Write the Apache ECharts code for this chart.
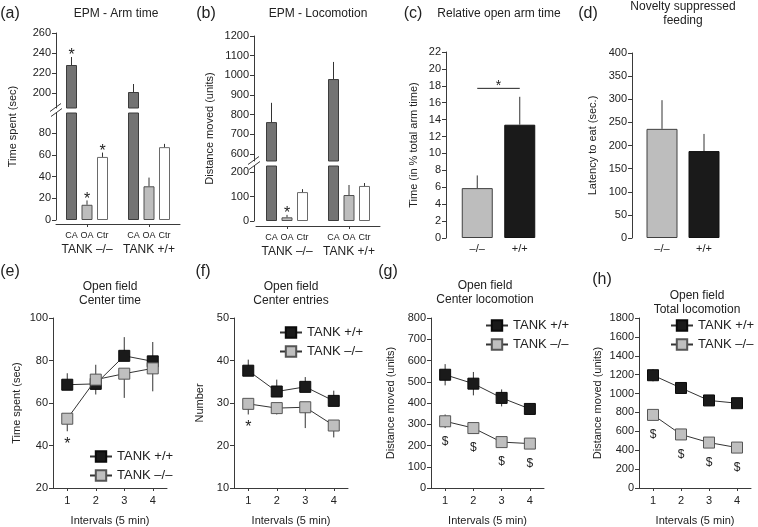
<!DOCTYPE html>
<html><head><meta charset="utf-8">
<script src="https://cdn.jsdelivr.net/npm/echarts@6/dist/echarts.min.js"></script>
<style>html,body{margin:0;padding:0;background:#fff}#c{width:758px;height:527px}</style>
</head><body><div id="c"></div>
<script>
// ---------------- DATA ----------------
const armCats = ['CA', 'OA', 'Ctr'];
const groupLabels = ['TANK \u2013/\u2013', 'TANK +/+'];
// (a) EPM arm time (sec)
const armTimeKO = [228, 14, 58];
const armTimeKOErr = [8, 4, 4];
const armTimeWT = [201, 31, 67];
const armTimeWTErr = [8, 8, 3];
const armTimeKOSig = [1, 1, 1];
const armTimeWTSig = [0, 0, 0];
const armTimeUpperTicks = [200, 220, 240, 260];
const armTimeLowerTicks = [0, 20, 40, 60, 80];
// (b) EPM locomotion (units)
const locoKO = [762, 15, 118];
const locoKOErr = [98, 10, 12];
const locoWT = [981, 106, 143];
const locoWTErr = [87, 41, 12];
const locoKOSig = [0, 1, 0];
const locoWTSig = [0, 0, 0];
const locoUpperTicks = [600, 700, 800, 900, 1000, 1100, 1200];
const locoLowerTicks = [0, 100, 200];
// (c) relative open arm time (%)
const genoCats = ['\u2013/\u2013', '+/+'];
const relOpen = [5.9, 13.4];
const relOpenErr = [1.5, 3.3];
const relOpenSigLevel = 17.7;
// (d) novelty suppressed feeding (sec)
const nsfLatency = [236, 188];
const nsfErr = [62, 37];
// (e)-(h) open field
const intervalCats = ['1', '2', '3', '4'];
const seriesNames = ['TANK +/+', 'TANK \u2013/\u2013'];
const ctWT = [68.6, 69.0, 82.2, 79.6], ctWTUp = [5.4, 9.0, 8.8, 9.1], ctWTDn = [0, 0, 0, 0];
const ctKO = [52.6, 71.0, 73.8, 76.3], ctKOUp = [0, 0, 0, 0], ctKODn = [5.9, 7.0, 11.4, 10.8];
const ctMarks = ['*', '', '', ''];
const ceWT = [37.6, 32.7, 33.8, 30.5], ceWTUp = [2.6, 2.8, 2.3, 2.4], ceWTDn = [0, 0, 0, 0];
const ceKO = [29.8, 28.8, 29.0, 24.7], ceKOUp = [0, 0, 0, 0], ceKODn = [2.5, 1.5, 4.9, 2.8];
const ceMarks = ['*', '', '', ''];
const clWT = [533, 491, 424, 372], clWTUp = [50, 55, 40, 28], clWTDn = [50, 55, 40, 28];
const clKO = [314, 282, 216, 209], clKOUp = [32, 24, 22, 15], clKODn = [32, 24, 22, 15];
const clMarks = ['$', '$', '$', '$'];
const tlWT = [1194, 1059, 927, 898], tlWTUp = [65, 55, 45, 40], tlWTDn = [65, 55, 45, 40];
const tlKO = [774, 567, 481, 428], tlKOUp = [30, 30, 25, 25], tlKODn = [30, 30, 25, 25];
const tlMarks = ['$', '$', '$', '$'];

const panelLetters = ['(a)', '(b)', '(c)', '(d)', '(e)', '(f)', '(g)', '(h)'];
const panelTitles = ['EPM - Arm time', 'EPM - Locomotion', 'Relative open arm time',
  'Novelty suppressed\nfeeding', 'Open field\nCenter time', 'Open field\nCenter entries',
  'Open field\nCenter locomotion', 'Open field\nTotal locomotion'];
const yNames = ['Time spent (sec)', 'Distance moved (units)', 'Time (in % total arm time)',
  'Latency to eat (sec.)', 'Time spent (sec)', 'Number', 'Distance moved (units)', 'Distance moved (units)'];
const xNameLine = 'Intervals (5 min)';

// ---------------- LAYOUT / STYLE ----------------
const FONT = '"Liberation Sans", Arial, Helvetica, sans-serif';
const AX = '#3a3a3a', TXT = '#222';
const G = {
  aUp: {left: 56, top: 33, width: 124, height: 75},
  aLo: {left: 56, top: 113, width: 124, height: 107},
  bUp: {left: 256, top: 36, width: 124, height: 125},
  bLo: {left: 256, top: 166, width: 124, height: 55},
  c: {left: 456, top: 52, width: 85, height: 186},
  d: {left: 641, top: 53, width: 84, height: 185},
  e: {left: 53, top: 318, width: 114, height: 170},
  f: {left: 234, top: 318, width: 114, height: 170},
  g: {left: 431, top: 318, width: 113, height: 170},
  h: {left: 639, top: 318, width: 112, height: 170}
};
const letterPos = [[10, 14], [206, 14], [413, 14], [588, 14], [10, 272], [203, 272], [388, 272], [602, 280]];
const titlePos = [[116, 14], [318, 14], [499, 14], [683, 14], [110, 294], [291, 294], [485, 293], [697, 303]];
const armStyles = [
  {color: '#737373', borderColor: '#3c3c3c', borderWidth: 1},
  {color: '#bdbdbd', borderColor: '#505050', borderWidth: 1},
  {color: '#ffffff', borderColor: '#6a6a6a', borderWidth: 1}
];
const genoStyles = [
  {color: '#bdbdbd', borderColor: '#404040', borderWidth: 1},
  {color: '#1a1a1a', borderColor: '#111', borderWidth: 1}
];

// slots: '', CA, OA, Ctr, '', CA, OA, Ctr, ''
const slotLabels = [''].concat(armCats, [''], armCats, ['']);
const slotIds = slotLabels.map((_, i) => String(i));
const groupMid = [2, 6];

function slotValues(ko, wt) {
  const out = ['-'];
  ko.forEach((v, i) => out.push({value: v, itemStyle: armStyles[i]}));
  out.push('-');
  wt.forEach((v, i) => out.push({value: v, itemStyle: armStyles[i]}));
  out.push('-');
  return out;
}
function slotErr(ko, koE, koS, wt, wtE, wtS) {
  const out = [];
  ko.forEach((v, i) => out.push([1 + i, v, koE[i], koS[i]]));
  wt.forEach((v, i) => out.push([5 + i, v, wtE[i], wtS[i]]));
  return out;
}
function txt(text, x, y, size, extra) {
  return {type: 'text', x, y, silent: true,
    style: Object.assign({text, fill: TXT, font: size + 'px ' + FONT,
      align: 'center', verticalAlign: 'middle', textAlign: 'center', textVerticalAlign: 'middle',
      lineHeight: Math.round(size * 1.15)}, extra || {})};
}
function barErrRender(params, api) {
  const x = api.value(0), v = api.value(1), e = api.value(2), s = api.value(3);
  const p0 = api.coord([x, v]), p1 = api.coord([x, v + e]);
  const ch = [{type: 'line', shape: {x1: p0[0], y1: p0[1], x2: p1[0], y2: p1[1]},
    style: {stroke: '#333', lineWidth: 1}}];
  if (s) ch.push(txt('*', p1[0], p1[1] - 1, 16));
  return {type: 'group', children: ch};
}
function lineErrRender(params, api) {
  const x = api.value(0), v = api.value(1), up = api.value(2), dn = api.value(3);
  const p = api.coord([x, v]), pu = api.coord([x, v + up]), pd = api.coord([x, v - dn]);
  return {type: 'line', shape: {x1: p[0], y1: pu[1], x2: p[0], y2: pd[1]},
    style: {stroke: '#333', lineWidth: 1}};
}
function markRender(params, api) {
  const x = api.value(0), v = api.value(1), dn = api.value(2), m = api.value(3);
  if (!m) return null;
  const p = api.coord([x, v]), pd = api.coord([x, v - dn]);
  const isStar = m === 1;
  const y = isStar ? Math.max(pd[1] + 13, p[1] + 18) : p[1] + 20;
  return txt(isStar ? '*' : '$', p[0], y, isStar ? 16 : 12);
}

const grids = [G.aUp, G.aLo, G.bUp, G.bLo, G.c, G.d, G.e, G.f, G.g, G.h];
const xAxes = [], yAxes = [], series = [];

function yAx(gi, o) {
  return {
    type: 'value', gridIndex: gi, min: o.min, max: o.max, interval: o.interval, offset: o.offset || 0,
    name: o.name, nameLocation: 'middle', nameGap: o.nameGap, nameRotate: 90,
    nameTextStyle: {fontSize: 11, color: TXT, fontFamily: FONT},
    axisLine: {show: true, lineStyle: {color: AX, width: 1}},
    axisTick: {show: true, length: 4, lineStyle: {color: AX}, customValues: o.ticks},
    axisLabel: {fontSize: 11, color: TXT, margin: 5, fontFamily: FONT, customValues: o.ticks,
      formatter: (v) => String(v)},
    splitLine: {show: false}
  };
}
function slotAx(gi, show, offset) {
  return {
    type: 'category', gridIndex: gi, data: slotIds, boundaryGap: false, show, offset,
    axisLine: {show: true, onZero: false, lineStyle: {color: AX}},
    axisTick: {show: true, length: 3, interval: (i) => groupMid.indexOf(i) >= 0, lineStyle: {color: AX}},
    axisLabel: {
      interval: 0, margin: 6,
      formatter: (v, i) => {
        const s = slotLabels[i];
        if (!s) return '';
        const g = groupMid.indexOf(i);
        return g >= 0 ? '{c|' + s + '}\n{g|' + groupLabels[g] + '}' : '{c|' + s + '}';
      },
      rich: {
        c: {fontSize: 9, lineHeight: 11, color: TXT, fontFamily: FONT},
        g: {fontSize: 12, lineHeight: 17, color: TXT, fontFamily: FONT}
      }
    }
  };
}

// (a)
xAxes.push(slotAx(0, false, 0), slotAx(1, true, 4));
yAxes.push(yAx(0, {min: 185, max: 260, ticks: armTimeUpperTicks}),
           yAx(1, {min: 0, max: 98.4, ticks: armTimeLowerTicks}));
// (b)
xAxes.push(slotAx(2, false, 0), slotAx(3, true, 5));
yAxes.push(yAx(2, {min: 564, max: 1200, ticks: locoUpperTicks, offset: 2}),
           yAx(3, {min: 0, max: 224.5, ticks: locoLowerTicks, offset: 2}));
[[0, armTimeKO, armTimeKOErr, armTimeKOSig, armTimeWT, armTimeWTErr, armTimeWTSig],
 [1, armTimeKO, armTimeKOErr, armTimeKOSig, armTimeWT, armTimeWTErr, armTimeWTSig],
 [2, locoKO, locoKOErr, locoKOSig, locoWT, locoWTErr, locoWTSig],
 [3, locoKO, locoKOErr, locoKOSig, locoWT, locoWTErr, locoWTSig]].forEach(r => {
  const k = r[0];
  series.push({type: 'bar', xAxisIndex: k, yAxisIndex: k, barWidth: 11, clip: true,
    data: slotValues(r[1], r[4]), silent: true});
  series.push({type: 'custom', xAxisIndex: k, yAxisIndex: k, clip: true, z: 3, silent: true,
    renderItem: barErrRender, data: slotErr(r[1], r[2], r[3], r[4], r[5], r[6])});
});
// (c), (d)
function genoAx(gi) {
  return {type: 'category', gridIndex: gi, data: genoCats,
    axisLine: {show: false}, axisTick: {show: false},
    axisLabel: {fontSize: 11, color: TXT, margin: 5, fontFamily: FONT}};
}
xAxes.push(genoAx(4), genoAx(5));
yAxes.push(yAx(4, {min: 0, max: 22, interval: 2, offset: 10, name: yNames[2], nameGap: 27}),
           yAx(5, {min: 0, max: 400, interval: 50, offset: 9, name: yNames[3], nameGap: 34}));
[[4, relOpen, relOpenErr], [5, nsfLatency, nsfErr]].forEach(r => {
  const k = r[0];
  series.push({type: 'bar', xAxisIndex: k, yAxisIndex: k, barWidth: 31, silent: true,
    data: r[1].map((v, i) => ({value: v, itemStyle: genoStyles[i]}))});
  series.push({type: 'custom', xAxisIndex: k, yAxisIndex: k, z: 3, silent: true,
    renderItem: barErrRender, data: r[1].map((v, i) => [i, v, r[2][i], 0])});
});
series.push({type: 'custom', xAxisIndex: 4, yAxisIndex: 4, z: 3, silent: true,
  data: [[0, relOpenSigLevel]],
  renderItem: (params, api) => {
    const lv = api.value(1);
    const p0 = api.coord([0, lv]), p1 = api.coord([1, lv]);
    return {type: 'group', children: [
      {type: 'line', shape: {x1: p0[0], y1: p0[1], x2: p1[0], y2: p1[1]}, style: {stroke: '#222', lineWidth: 1}},
      txt('*', (p0[0] + p1[0]) / 2, p0[1] - 2, 14)
    ]};
  }});

// (e)-(h)
const linePanels = [
  {gi: 6, min: 20, max: 100, interval: 20, nameGap: 31, name: yNames[4],
   wt: ctWT, wtU: ctWTUp, wtD: ctWTDn, ko: ctKO, koU: ctKOUp, koD: ctKODn, marks: ctMarks},
  {gi: 7, min: 10, max: 50, interval: 10, nameGap: 29, name: yNames[5],
   wt: ceWT, wtU: ceWTUp, wtD: ceWTDn, ko: ceKO, koU: ceKOUp, koD: ceKODn, marks: ceMarks},
  {gi: 8, min: 0, max: 800, interval: 100, nameGap: 35, name: yNames[6],
   wt: clWT, wtU: clWTUp, wtD: clWTDn, ko: clKO, koU: clKOUp, koD: clKODn, marks: clMarks},
  {gi: 9, min: 0, max: 1800, interval: 200, nameGap: 36, name: yNames[7],
   wt: tlWT, wtU: tlWTUp, wtD: tlWTDn, ko: tlKO, koU: tlKOUp, koD: tlKODn, marks: tlMarks}
];
const wtStyle = {color: '#1a1a1a', borderColor: '#0a0a0a', borderWidth: 1};
const koStyle = {color: '#bfbfbf', borderColor: '#555', borderWidth: 1};
linePanels.forEach(P => {
  const k = P.gi;
  xAxes.push({type: 'category', gridIndex: k, data: intervalCats,
    name: xNameLine, nameLocation: 'middle', nameGap: 27,
    nameTextStyle: {fontSize: 11, color: TXT, fontFamily: FONT},
    axisLine: {show: true, onZero: false, lineStyle: {color: AX}},
    axisTick: {show: true, length: 3, alignWithLabel: true, lineStyle: {color: AX}},
    axisLabel: {fontSize: 11, color: TXT, margin: 7, fontFamily: FONT}});
  yAxes.push(yAx(k, {min: P.min, max: P.max, interval: P.interval, name: P.name, nameGap: P.nameGap}));
  series.push({type: 'custom', xAxisIndex: k, yAxisIndex: k, z: 1, silent: true, renderItem: lineErrRender,
    data: P.wt.map((v, i) => [i, v, P.wtU[i], P.wtD[i]])});
  series.push({type: 'custom', xAxisIndex: k, yAxisIndex: k, z: 1, silent: true, renderItem: lineErrRender,
    data: P.ko.map((v, i) => [i, v, P.koU[i], P.koD[i]])});
  series.push({type: 'line', name: seriesNames[0], xAxisIndex: k, yAxisIndex: k, z: 3,
    data: P.wt, symbol: 'rect', symbolSize: 11, showSymbol: true,
    lineStyle: {color: '#333', width: 1}, itemStyle: wtStyle});
  series.push({type: 'line', name: seriesNames[1], xAxisIndex: k, yAxisIndex: k, z: 4,
    data: P.ko, symbol: 'rect', symbolSize: 11, showSymbol: true,
    lineStyle: {color: '#333', width: 1}, itemStyle: koStyle});
  series.push({type: 'custom', xAxisIndex: k, yAxisIndex: k, z: 5, silent: true, renderItem: markRender,
    data: P.ko.map((v, i) => [i, v, P.koD[i], P.marks[i] === '*' ? 1 : (P.marks[i] === '$' ? 2 : 0)])});
});

const legendPos = [[89, 450], [279, 326], [485, 319], [670, 319]];
const legends = legendPos.map(p => ({
  data: seriesNames, orient: 'vertical', left: p[0], top: p[1], padding: 0,
  itemWidth: 22, itemHeight: 13, itemGap: 6, selectedMode: false,
  textStyle: {fontSize: 13, color: TXT, fontFamily: FONT}
}));

// graphics: letters, titles, broken-axis names and break marks
const graphics = [];
panelLetters.forEach((t, i) => graphics.push(txt(t, letterPos[i][0], letterPos[i][1], 16)));
panelTitles.forEach((t, i) => graphics.push(txt(t, titlePos[i][0], titlePos[i][1], 12, {lineHeight: 14})));
function rotName(t, x, y) {
  const e = txt(t, x, y, 11); e.rotation = Math.PI / 2; return e;
}
graphics.push(rotName(yNames[0], 13, (G.aUp.top + G.aLo.top + G.aLo.height) / 2));
graphics.push(rotName(yNames[1], 210, (G.bUp.top + G.bLo.top + G.bLo.height) / 2));
function breakMarks(ax, mid) {
  return [
    {type: 'line', silent: true, shape: {x1: ax - 6, y1: mid + 1, x2: ax + 5, y2: mid - 7}, style: {stroke: AX, lineWidth: 1}},
    {type: 'line', silent: true, shape: {x1: ax - 5, y1: mid + 6, x2: ax + 6, y2: mid - 2}, style: {stroke: AX, lineWidth: 1}}
  ];
}
graphics.push(...breakMarks(G.aUp.left, (G.aUp.top + G.aUp.height + G.aLo.top) / 2));
graphics.push(...breakMarks(G.bUp.left - 2, (G.bUp.top + G.bUp.height + G.bLo.top) / 2));

const chart = echarts.init(document.getElementById('c'), null, {renderer: 'canvas'});
chart.setOption({
  animation: false,
  backgroundColor: '#fff',
  textStyle: {fontFamily: FONT},
  grid: grids.map(g => Object.assign({containLabel: false}, g)),
  xAxis: xAxes,
  yAxis: yAxes,
  legend: legends,
  series: series,
  graphic: {elements: graphics}
});
</script></body></html>
